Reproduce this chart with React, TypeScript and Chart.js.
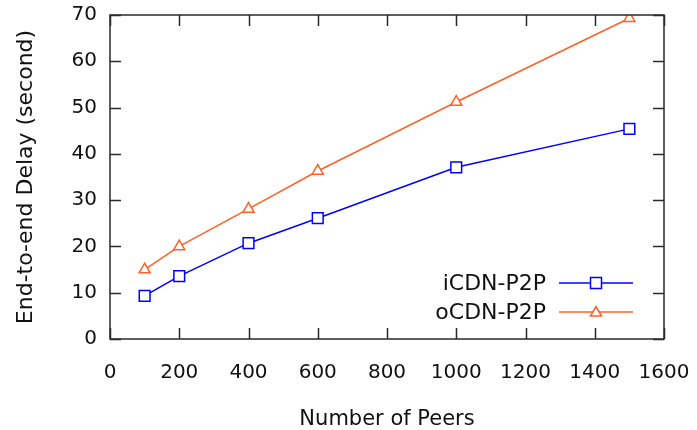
import React, { useEffect, useRef } from "react";
import { Chart, registerables } from "chart.js";

Chart.register(...registerables);

const peers = [100, 200, 400, 600, 1000, 1500];
const icdnDelay = [9.3, 13.6, 20.7, 26.1, 37.1, 45.4];
const ocdnDelay = [15.0, 20.0, 28.1, 36.3, 51.2, 69.3];
const seriesNames = ["iCDN-P2P", "oCDN-P2P"];
const seriesColors = ["#0000ff", "#ff6028"];
const seriesMarkers = ["rect", "triangle"];
const xTitle = "Number of Peers";
const yTitle = "End-to-end Delay (second)";

const FONT = "'DejaVu Sans', sans-serif";

const framePlugin = {
  id: "frame",
  afterDraw(chart: any) {
    const { ctx, chartArea, scales } = chart;
    const { left, right, top, bottom } = chartArea;
    ctx.save();
    ctx.strokeStyle = "#2a2a2a";
    ctx.lineWidth = 1.5;
    ctx.strokeRect(left, top, right - left, bottom - top);
    const tl = 11;
    ctx.beginPath();
    scales.y.ticks.forEach((t: any) => {
      const py = Math.round(scales.y.getPixelForValue(t.value)) + 0.5;
      ctx.moveTo(left, py);
      ctx.lineTo(left + tl, py);
      ctx.moveTo(right, py);
      ctx.lineTo(right - tl, py);
    });
    scales.x.ticks.forEach((t: any) => {
      const px = Math.round(scales.x.getPixelForValue(t.value)) + 0.5;
      ctx.moveTo(px, bottom);
      ctx.lineTo(px, bottom - tl);
      ctx.moveTo(px, top);
      ctx.lineTo(px, top + tl);
    });
    ctx.stroke();

    // legend inside the plot area
    const textRight = 546;
    const lineX0 = 559;
    const lineX1 = 633;
    const rowY = [283, 312];
    ctx.font = `22px ${FONT}`;
    ctx.textAlign = "right";
    ctx.textBaseline = "middle";
    chart.data.datasets.forEach((ds: any, i: number) => {
      const y = rowY[i];
      ctx.fillStyle = "#111";
      ctx.fillText(ds.label, textRight, y + 1);
      ctx.strokeStyle = ds.borderColor;
      ctx.lineWidth = 1.5;
      ctx.beginPath();
      ctx.moveTo(lineX0, y);
      ctx.lineTo(lineX1, y);
      ctx.stroke();
      const mx = (lineX0 + lineX1) / 2;
      ctx.fillStyle = "#ffffff";
      ctx.lineWidth = 1.5;
      ctx.beginPath();
      if (ds.pointStyle === "rect") {
        ctx.rect(mx - 5.5, y - 5.5, 11, 11);
      } else {
        ctx.moveTo(mx, y - 5.5);
        ctx.lineTo(mx + 5.5, y + 4);
        ctx.lineTo(mx - 5.5, y + 4);
        ctx.closePath();
      }
      ctx.fill();
      ctx.stroke();
    });
    ctx.restore();
  },
};

export default function App() {
  const ref = useRef<HTMLCanvasElement | null>(null);
  useEffect(() => {
    if (!ref.current) return;
    const series = [icdnDelay, ocdnDelay];
    const chart = new Chart(ref.current, {
      type: "line",
      data: {
        datasets: series.map((vals, i) => ({
          label: seriesNames[i],
          data: peers.map((p, j) => ({ x: p, y: vals[j] })),
          borderColor: seriesColors[i],
          backgroundColor: "#ffffff",
          pointBackgroundColor: "#ffffff",
          pointBorderColor: seriesColors[i],
          pointBorderWidth: 1.5,
          pointStyle: seriesMarkers[i] as any,
          pointRadius: i === 0 ? 7.6 : 6.4,
          borderWidth: 1.5,
          tension: 0,
          fill: false,
        })),
      },
      options: {
        animation: false,
        responsive: false,
        devicePixelRatio: 1,
        layout: { padding: { top: 15, right: 33, left: 0, bottom: 0 } },
        plugins: {
          legend: { display: false },
          tooltip: { enabled: false },
        },
        scales: {
          x: {
            type: "linear",
            min: 0,
            max: 1600,
            ticks: {
              stepSize: 200,
              color: "#111",
              font: { family: FONT, size: 20 },
              padding: 22,
              maxRotation: 0,
              callback: (v: any) => String(v),
            },
            grid: { display: false, drawTicks: false },
            border: { display: false },
            title: {
              display: true,
              text: xTitle,
              color: "#111",
              font: { family: FONT, size: 21 },
              padding: { top: 0, bottom: -2 },
            },
            afterFit: (s: any) => {
              s.height = 91;
              s.paddingLeft = 0;
              s.paddingRight = 0;
            },
          },
          y: {
            type: "linear",
            min: 0,
            max: 70,
            ticks: {
              stepSize: 10,
              color: "#111",
              font: { family: FONT, size: 20 },
              padding: 13,
              callback: (v: any) => String(v),
            },
            grid: { display: false, drawTicks: false },
            border: { display: false },
            title: {
              display: true,
              text: yTitle,
              color: "#111",
              font: { family: FONT, size: 22 },
              padding: { top: 13, bottom: 0 },
            },
            afterFit: (s: any) => {
              s.width = 110;
              s.paddingTop = 0;
              s.paddingBottom = 0;
            },
          },
        },
      },
      plugins: [framePlugin],
    });
    return () => chart.destroy();
  }, []);
  return (
    <div style={{ position: "absolute", left: 0, top: 0, width: 697, height: 430, background: "#fff" }}>
      <canvas ref={ref} width={697} height={430} />
    </div>
  );
}
